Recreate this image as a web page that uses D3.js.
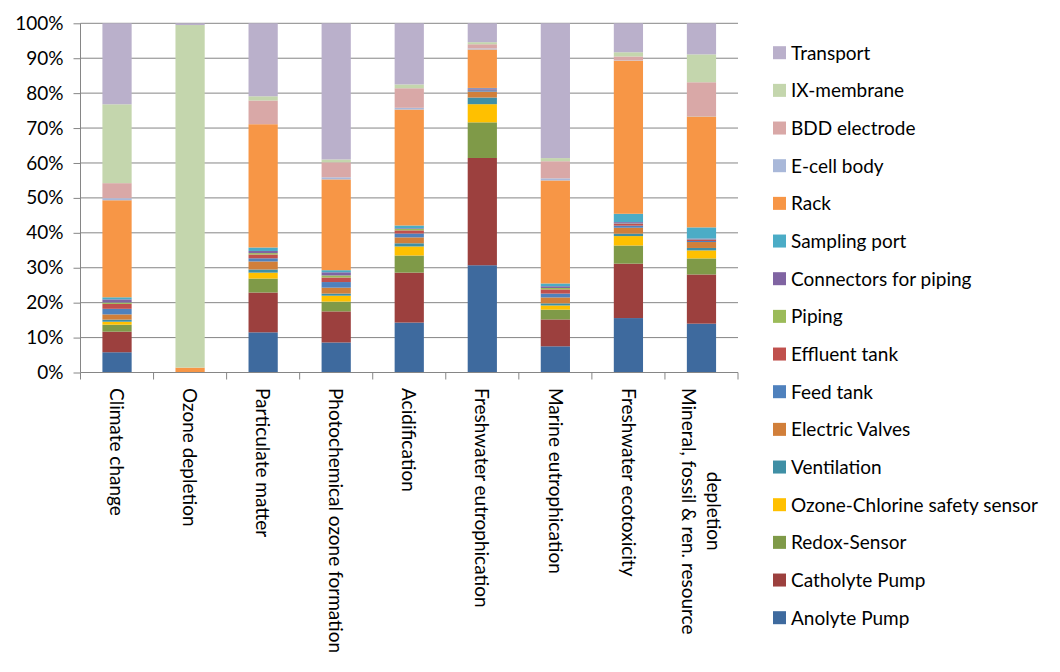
<!DOCTYPE html>
<html>
<head>
<meta charset="utf-8">
<script src="https://cdn.jsdelivr.net/npm/d3@7"></script>
<style>
  html, body { margin: 0; padding: 0; background: #fff; }
  svg { display: block; }
  text { font-family: Lato, "Open Sans", sans-serif; fill: #000; }
</style>
</head>
<body>
<svg id="chart" width="1060" height="672"></svg>
<script>
// ---- DATA (percent shares) ----
const categories = [
  "Climate change", "Ozone depletion", "Particulate matter",
  "Photochemical ozone formation", "Acidification", "Freshwater eutrophication",
  "Marine eutrophication", "Freshwater ecotoxicity",
  "Mineral, fossil & ren. resource depletion"
];
const categoryLines = [
  ["Climate change"], ["Ozone depletion"], ["Particulate matter"],
  ["Photochemical ozone formation"], ["Acidification"], ["Freshwater eutrophication"],
  ["Marine eutrophication"], ["Freshwater ecotoxicity"],
  ["Mineral, fossil & ren. resource", "depletion"]
];
const seriesNames = [
  "Anolyte Pump", "Catholyte Pump", "Redox-Sensor", "Ozone-Chlorine safety sensor",
  "Ventilation", "Electric Valves", "Feed tank", "Effluent tank", "Piping",
  "Connectors for piping", "Sampling port", "Rack", "E-cell body",
  "BDD electrode", "IX-membrane", "Transport"
];
const anolytePump     = [5.8, 0.0, 11.5, 8.6, 14.3, 30.7, 7.5, 15.6, 14.0];
const catholytePump   = [5.9, 0.0, 11.4, 8.9, 14.3, 30.7, 7.7, 15.6, 14.1];
const redoxSensor     = [2.0, 0.0, 4.0, 2.8, 4.9, 10.2, 2.8, 5.2, 4.6];
const ozoneSensor     = [0.85, 0.0, 1.7, 1.7, 2.6, 5.2, 1.2, 2.7, 2.3];
const ventilation     = [0.6, 0.0, 0.9, 0.6, 0.9, 1.9, 0.6, 0.7, 0.7];
const electricValves  = [1.5, 0.0, 2.3, 1.7, 1.7, 1.7, 1.7, 1.7, 1.7];
const feedTank        = [1.6, 0.0, 0.9, 1.6, 1.1, 0.4, 1.1, 0.6, 0.3];
const effluentTank    = [1.4, 0.0, 1.1, 1.3, 0.9, 0.1, 1.2, 0.5, 0.3];
const piping          = [0.4, 0.0, 0.4, 0.6, 0.4, 0.05, 0.4, 0.1, 0.1];
const connectors      = [0.9, 0.0, 0.6, 0.9, 0.2, 0.4, 0.5, 0.4, 0.3];
const samplingPort    = [0.6, 0.0, 1.0, 0.6, 0.8, 0.1, 0.8, 2.4, 3.2];
const rack            = [27.8, 1.4, 35.3, 26.0, 33.2, 11.0, 29.5, 43.9, 31.8];
const eCellBody       = [0.6, 0.0, 0.0, 0.6, 0.5, 0.3, 0.6, 0.1, 0.1];
const bddElectrode    = [4.3, 0.0, 6.8, 4.3, 5.6, 1.2, 4.9, 1.1, 9.7];
const ixMembrane      = [22.6, 98.1, 1.2, 0.8, 1.1, 0.6, 0.9, 1.2, 8.0];
const transport       = [23.2, 0.5, 20.9, 39.0, 17.5, 5.4, 38.6, 8.3, 8.9];
const yTickLabels     = ["0%", "10%", "20%", "30%", "40%", "50%", "60%", "70%", "80%", "90%", "100%"];

const seriesValues = [
  anolytePump, catholytePump, redoxSensor, ozoneSensor, ventilation, electricValves,
  feedTank, effluentTank, piping, connectors, samplingPort, rack, eCellBody,
  bddElectrode, ixMembrane, transport
];
const colors = [
  "#3E6A9E", "#9C403E", "#7F9A48", "#FFC000", "#3F8FA5", "#D17F3A",
  "#4F81BD", "#C0504D", "#9BBB59", "#8064A2", "#4BACC6", "#F79646",
  "#A9B8D9", "#D9A8A7", "#C4D6AD", "#BAB0CB"
];

// ---- TABLE ----
const table = categories.map((c, i) => {
  const row = { category: c };
  seriesNames.forEach((s, j) => { row[s] = seriesValues[j][i]; });
  return row;
});
const stacked = d3.stack().keys(seriesNames).offset(d3.stackOffsetExpand)(table);

// ---- LAYOUT ----
const svg = d3.select("#chart");
const plotLeft = 80.5, plotRight = 738, plotTop = 23.3, plotBottom = 372.5;
const gridColor = "#868686";
const fontSize = 19;

const x = d3.scaleBand().domain(categories).range([plotLeft, plotRight])
  .paddingInner(0.6).paddingOuter(0.3);
const y = d3.scaleLinear().domain([0, 1]).range([plotBottom, plotTop]);
const color = d3.scaleOrdinal().domain(seriesNames).range(colors);

// gridlines
svg.append("g").selectAll("line")
  .data(d3.range(1, 11).map(i => i / 10))
  .join("line")
  .attr("x1", plotLeft).attr("x2", plotRight)
  .attr("y1", d => y(d)).attr("y2", d => y(d))
  .attr("stroke", gridColor).attr("stroke-width", 1);

// bars
svg.append("g").selectAll("g")
  .data(stacked)
  .join("g")
  .attr("fill", d => color(d.key))
  .selectAll("rect")
  .data(d => d)
  .join("rect")
  .attr("x", d => x(d.data.category))
  .attr("width", x.bandwidth())
  .attr("y", d => y(d[1]))
  .attr("height", d => Math.max(0, y(d[0]) - y(d[1])));

// y axis
const yAxis = d3.axisLeft(y)
  .tickValues(d3.range(0, 11).map(i => i / 10))
  .tickFormat((d, i) => yTickLabels[i])
  .tickSize(7).tickPadding(10);
const gy = svg.append("g").attr("transform", `translate(${plotLeft},0)`).call(yAxis);
gy.select(".domain").attr("stroke", gridColor).attr("d", `M0,${plotBottom}V${plotTop}`);
gy.selectAll(".tick line").attr("stroke", gridColor);
gy.selectAll(".tick text").attr("font-family", "Lato, sans-serif")
  .attr("font-size", fontSize).attr("fill", "#000");

// x axis line + boundary ticks
const step = x.step();
const boundaries = d3.range(0, categories.length + 1).map(i => plotLeft + i * step);
svg.append("line")
  .attr("x1", plotLeft).attr("x2", plotRight).attr("y1", plotBottom).attr("y2", plotBottom)
  .attr("stroke", gridColor);
svg.append("g").selectAll("line")
  .data(boundaries)
  .join("line")
  .attr("x1", d => d).attr("x2", d => d)
  .attr("y1", plotBottom).attr("y2", plotBottom + 7)
  .attr("stroke", gridColor);

// category labels (rotated, reading top to bottom)
const labelTop = 388;
const lineGap = 25;
categoryLines.forEach((lines, i) => {
  const cx = x(categories[i]) + x.bandwidth() / 2;
  if (lines.length === 1) {
    svg.append("text")
      .attr("transform", `translate(${cx},${labelTop}) rotate(90)`)
      .attr("font-size", fontSize)
      .attr("dy", "0.36em")
      .text(lines[0]);
  } else {
    const t1 = svg.append("text")
      .attr("transform", `translate(${cx - lineGap / 2},${labelTop}) rotate(90)`)
      .attr("font-size", fontSize)
      .attr("dy", "0.36em")
      .text(lines[0]);
    const len = t1.node().getComputedTextLength();
    svg.append("text")
      .attr("transform", `translate(${cx + lineGap / 2},${labelTop + len / 2}) rotate(90)`)
      .attr("font-size", fontSize)
      .attr("dy", "0.36em")
      .attr("text-anchor", "middle")
      .text(lines[1]);
  }
});

// legend (reverse order: Transport at top)
const legendNames = seriesNames.slice().reverse();
const ly = d3.scalePoint().domain(legendNames).range([52.7, 617.7]);
const lg = svg.append("g").selectAll("g")
  .data(legendNames)
  .join("g")
  .attr("transform", d => `translate(773,${ly(d)})`);
lg.append("rect")
  .attr("x", 0).attr("y", -6.5).attr("width", 13).attr("height", 13)
  .attr("fill", d => color(d));
lg.append("text")
  .attr("x", 18).attr("dy", "0.36em")
  .attr("font-size", fontSize)
  .text(d => d);
</script>
</body>
</html>
